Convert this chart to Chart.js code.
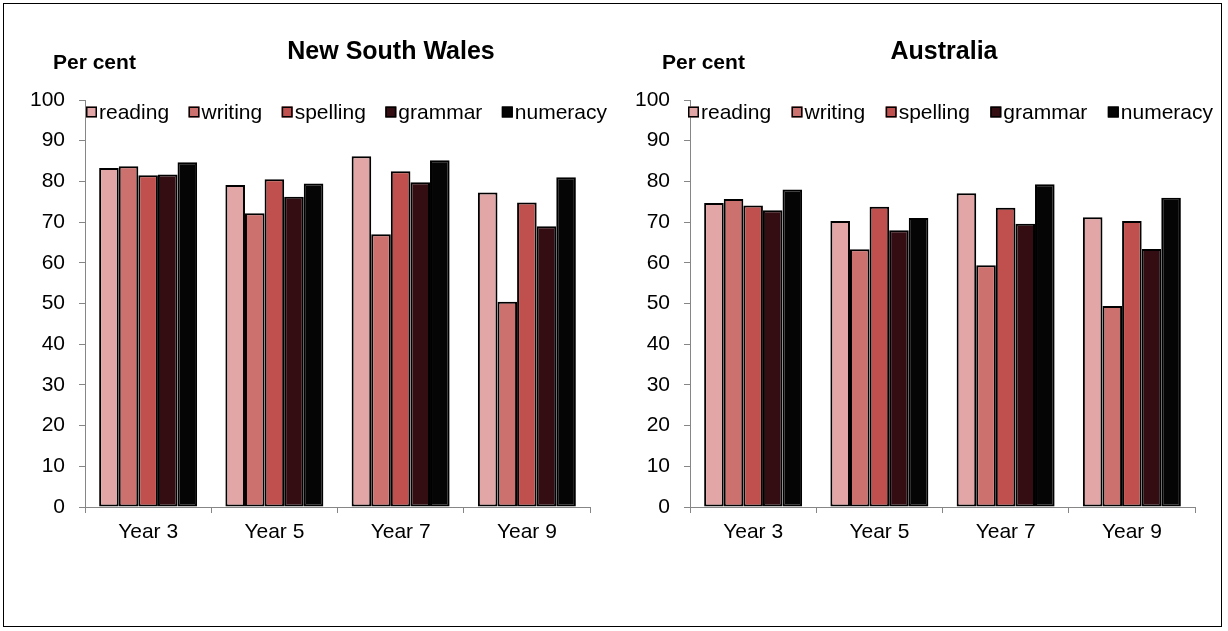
<!DOCTYPE html>
<html><head><meta charset="utf-8">
<script src="https://cdn.jsdelivr.net/npm/chart.js@4.4.0/dist/chart.umd.min.js"></script>
<style>
html,body{margin:0;padding:0;background:#fff;}
#wrap{position:relative;width:1228px;height:631px;overflow:hidden;background:#fff;}
#frame{position:absolute;left:3px;top:3px;width:1217px;height:622px;border:1.5px solid #000;pointer-events:none;}
.c{position:absolute;top:0;width:614px;height:631px;}
</style></head><body>
<div id="wrap">
<div class="c" style="left:0"><canvas id="nsw" width="614" height="631"></canvas></div>
<div class="c" style="left:614px"><canvas id="aus" width="614" height="631"></canvas></div>
<div id="frame"></div>
</div>
<script>
// ---- data ----
const categories = ['Year 3', 'Year 5', 'Year 7', 'Year 9'];
const seriesNames = ['reading', 'writing', 'spelling', 'grammar', 'numeracy'];
const seriesColors = ['#E1A6A5', '#CC716E', '#C0504D', '#330D11', '#050505'];
const chartTitles = ['New South Wales', 'Australia'];
const unitLabel = 'Per cent';

const nswReading  = [83.3, 79.1, 86.2, 77.3];
const nswWriting  = [83.7, 72.2, 67.0, 50.4];
const nswSpelling = [81.5, 80.5, 82.5, 74.8];
const nswGrammar  = [81.7, 76.2, 79.8, 69.0];
const nswNumeracy = [84.7, 79.5, 85.2, 81.0];

const ausReading  = [74.7, 70.3, 77.1, 71.2];
const ausWriting  = [75.7, 63.3, 59.4, 49.4];
const ausSpelling = [74.1, 73.8, 73.5, 70.3];
const ausGrammar  = [72.9, 68.0, 69.6, 63.4];
const ausNumeracy = [78.0, 71.0, 79.3, 76.0];

const yMin = 0, yMax = 100, yStep = 10;

// ---- rendering ----
const FONT = '"Liberation Sans", Arial, Helvetica, sans-serif';

const overlay = {
  id: 'overlay',
  afterDraw(chart, args, o) {
    const ctx = chart.ctx;
    ctx.save();
    ctx.fillStyle = '#000';
    ctx.textBaseline = 'middle';
    ctx.font = 'bold 25px ' + FONT;
    ctx.textAlign = 'center';
    ctx.fillText(o.title, o.titleX, o.titleY);
    ctx.font = 'bold 21px ' + FONT;
    ctx.textAlign = 'left';
    ctx.fillText(o.unit, o.unitX, o.unitY);
    // legend
    ctx.font = '21px ' + FONT;
    const ds = chart.data.datasets;
    const box = 11, boxGap = 2;
    let total = 0;
    ds.forEach(d => { total += box + boxGap + ctx.measureText(d.label).width; });
    const gap = (o.legendEnd - o.legendStart - total) / (ds.length - 1);
    let x = o.legendStart;
    const y = o.legendY;
    ds.forEach(d => {
      ctx.fillStyle = d.backgroundColor;
      ctx.fillRect(x, y - box / 2, box, box);
      ctx.strokeStyle = '#000';
      ctx.lineWidth = 1.5;
      ctx.strokeRect(x + 0.75, y - box / 2 + 0.75, box - 1.5, box - 1.5);
      x += box + boxGap;
      ctx.fillStyle = '#000';
      ctx.fillText(d.label, x, y + 1);
      x += ctx.measureText(d.label).width + gap;
    });
    ctx.restore();
  }
};

function makeChart(id, values, title, geo) {
  const datasets = seriesNames.map((name, i) => ({
    label: name,
    data: values[i],
    backgroundColor: seriesColors[i],
    borderColor: '#000',
    borderWidth: 2,
    borderSkipped: false,
    categoryPercentage: 0.776,
    barPercentage: 1.0
  }));
  return new Chart(document.getElementById(id), {
    type: 'bar',
    data: { labels: categories, datasets },
    options: {
      responsive: false,
      animation: false,
      layout: { padding: { top: geo.top, right: geo.right, left: 0, bottom: 0 } },
      plugins: {
        legend: { display: false },
        tooltip: { enabled: false },
        overlay: {
          title: title, titleX: geo.titleX, titleY: 52,
          unit: unitLabel, unitX: geo.unitX, unitY: 63,
          legendStart: geo.legendStart, legendEnd: geo.legendEnd, legendY: 112
        }
      },
      scales: {
        x: {
          afterFit: s => { s.height = 631 - geo.bottom; },
          grid: { offset: true, drawOnChartArea: false, drawTicks: true, tickLength: 6, color: '#868686' },
          border: { color: '#868686', width: 1 },
          ticks: { color: '#000', font: { family: FONT, size: 21 }, padding: 7 }
        },
        y: {
          min: yMin, max: yMax,
          afterFit: s => { s.width = geo.left; },
          grid: { drawOnChartArea: false, drawTicks: true, tickLength: 6, color: '#868686' },
          border: { color: '#868686', width: 1 },
          ticks: { stepSize: yStep, color: '#000', font: { family: FONT, size: 21 }, padding: 14 }
        }
      }
    },
    plugins: [overlay]
  });
}

makeChart('nsw', [nswReading, nswWriting, nswSpelling, nswGrammar, nswNumeracy], chartTitles[0],
  { left: 85, right: 24, top: 100, bottom: 507, titleX: 391, unitX: 53, legendStart: 86, legendEnd: 607 });
makeChart('aus', [ausReading, ausWriting, ausSpelling, ausGrammar, ausNumeracy], chartTitles[1],
  { left: 76, right: 33, top: 100, bottom: 507, titleX: 330, unitX: 48, legendStart: 74, legendEnd: 599 });
</script>
</body></html>
